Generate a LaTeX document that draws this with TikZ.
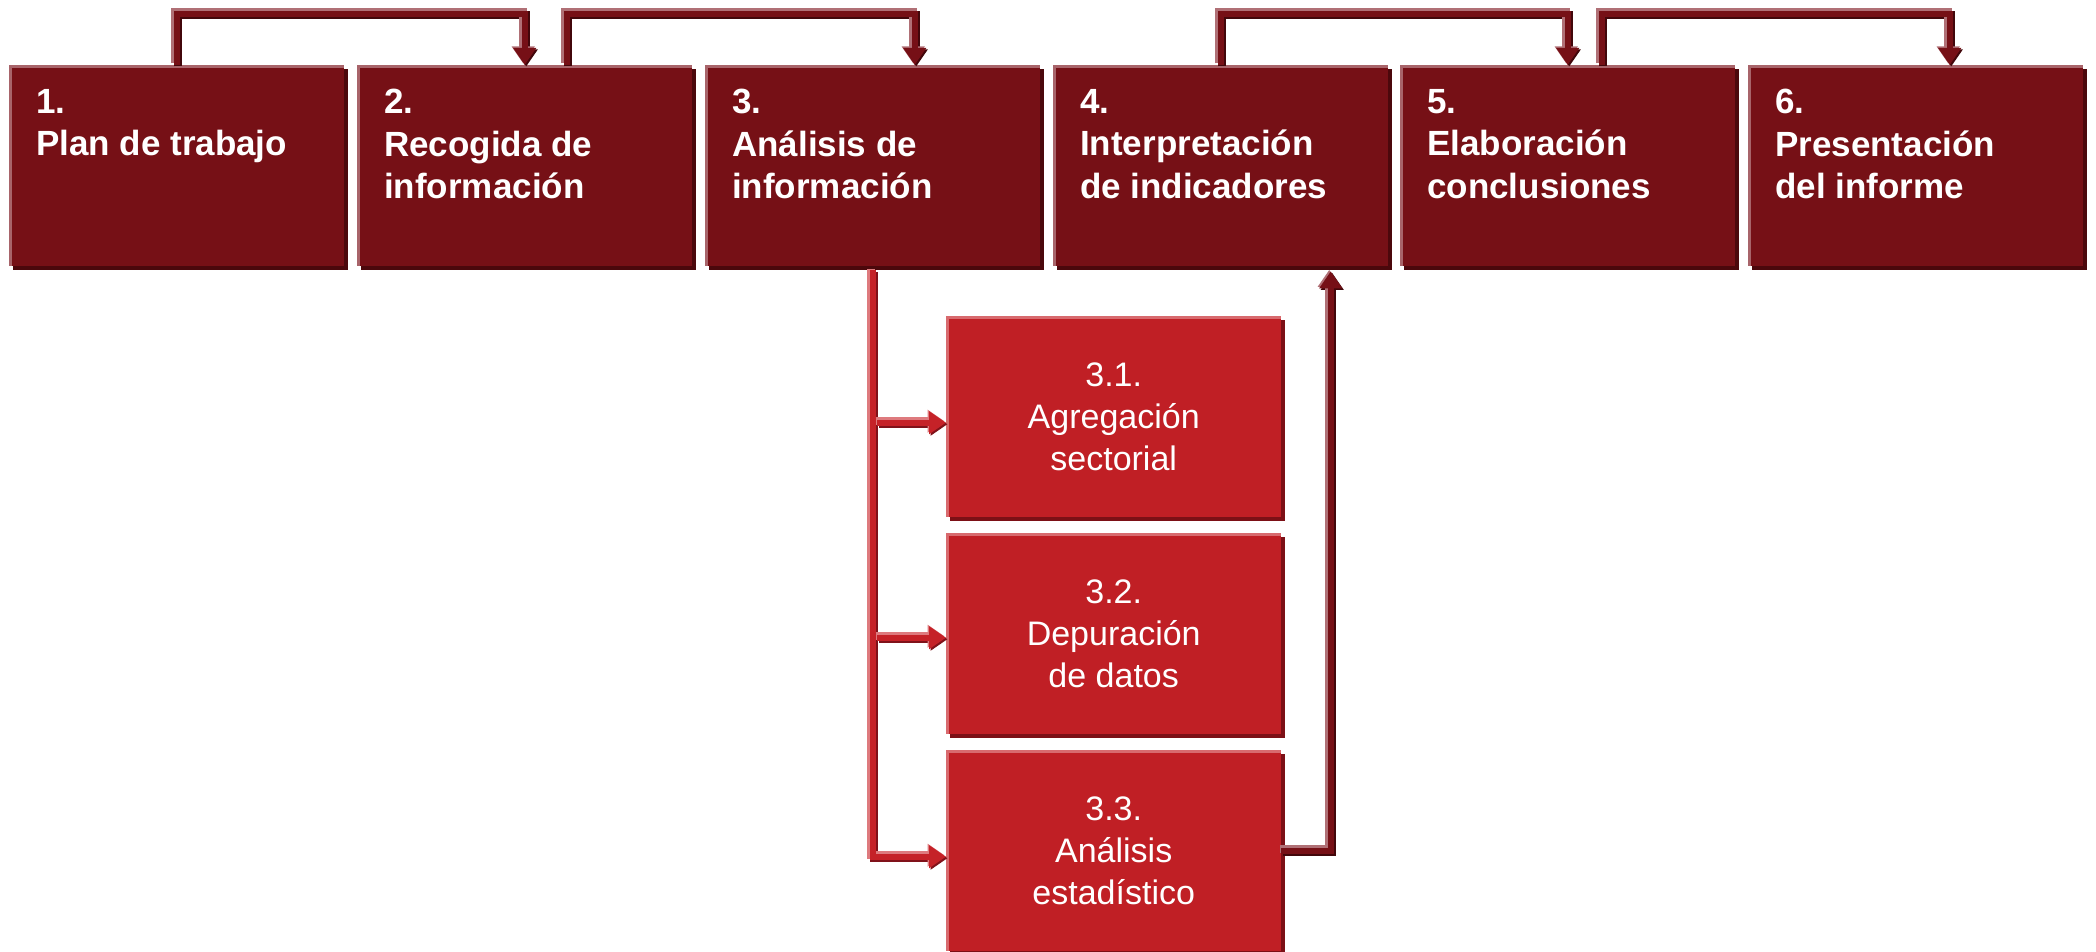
\documentclass[tikz,border=0pt]{standalone}
\usepackage{fontspec}
\setmainfont{Liberation Sans}
\usetikzlibrary{shadows,arrows.meta}
\definecolor{boxmain}{HTML}{761016}
\definecolor{boxlight}{HTML}{A8646A}
\definecolor{boxdark}{HTML}{4B080C}
\definecolor{submain}{HTML}{C01F25}
\definecolor{sublight}{HTML}{D86A6E}
\definecolor{subdark}{HTML}{7C1016}
\definecolor{conmain}{HTML}{761016}
\definecolor{conlight}{HTML}{B07076}
\definecolor{condark}{HTML}{42070B}
\definecolor{brmain}{HTML}{C52228}
\definecolor{brlight}{HTML}{DE7A7E}
\definecolor{brdark}{HTML}{80121A}
\tikzset{
  topbox/.style={rectangle, anchor=north west, minimum width=335pt, minimum height=201pt,
    inner sep=0pt, fill=boxmain,
    drop shadow={shadow xshift=4pt, shadow yshift=-4pt, fill=boxdark, opacity=1},
    path picture={\draw[boxlight, line width=6pt] (path picture bounding box.south west)
      |- (path picture bounding box.north east);}},
  toptext/.style={anchor=north west, inner sep=0pt, align=left, text=white,
    font=\fontsize{35}{42.5}\selectfont\bfseries},
  subbox/.style={rectangle, anchor=north west, minimum width=335pt, minimum height=201pt,
    inner sep=0pt, fill=submain, text=white, align=center,
    font=\fontsize{34}{42}\selectfont,
    execute at begin node={\rule{0pt}{33pt}},
    drop shadow={shadow xshift=4pt, shadow yshift=-4pt, fill=subdark, opacity=1},
    path picture={\draw[sublight, line width=6pt] (path picture bounding box.south west)
      |- (path picture bounding box.north east);}},
  tip/.style={-{Triangle[length=17pt,width=22pt]}},
  condk/.style={tip, draw=condark, line width=8pt, transform canvas={shift={(1.5pt,-1.5pt)}}},
  conlt/.style={tip, draw=conlight, line width=8pt, transform canvas={shift={(-1.5pt,1.5pt)}}},
  conmn/.style={tip, draw=conmain, line width=6pt},
  brdk/.style={tip, draw=brdark, line width=8pt, transform canvas={shift={(1.5pt,-1.5pt)}}},
  brlt/.style={tip, draw=brlight, line width=8pt, transform canvas={shift={(-1.5pt,1.5pt)}}},
  brmn/.style={tip, draw=brmain, line width=6pt},
}
\newcommand\tripledraw[2]{\draw[#1dk] #2; \draw[#1lt] #2; \draw[#1mn] #2;}
\begin{document}
\begin{tikzpicture}[x=1pt,y=1pt]
\useasboundingbox (0,0) rectangle (2096,-952);
\fill[white] (0,0) rectangle (2096,-952);
% top boxes
\node[topbox] (b1) at (9,-65) {};
\node[topbox] (b2) at (357,-65) {};
\node[topbox] (b3) at (705,-65) {};
\node[topbox] (b4) at (1053,-65) {};
\node[topbox] (b5) at (1400,-65) {};
\node[topbox] (b6) at (1748,-65) {};
\node[toptext] (t1) at ([shift={(27pt,-24pt)}]b1.north west) {1.\\Plan de trabajo};
\node[toptext] (t2) at ([shift={(27pt,-24pt)}]b2.north west) {2.\\Recogida de\\información};
\node[toptext] (t3) at ([shift={(27pt,-24pt)}]b3.north west) {3.\\Análisis de\\información};
\node[toptext] (t4) at ([shift={(27pt,-24pt)}]b4.north west) {4.\\Interpretación\\de indicadores};
\node[toptext] (t5) at ([shift={(27pt,-24pt)}]b5.north west) {5.\\Elaboración\\conclusiones};
\node[toptext] (t6) at ([shift={(27pt,-24pt)}]b6.north west) {6.\\Presentación\\del informe};
% sub boxes
\node[subbox] (s1) at (946,-316) {3.1.\\Agregación\\sectorial};
\node[subbox] (s2) at (946,-533) {3.2.\\Depuración\\de datos};
\node[subbox] (s3) at (946,-750) {3.3.\\Análisis\\estadístico};
% top connectors
\tripledraw{con}{(b1.north) -- ++(0,51) -| (b2.north)}
\tripledraw{con}{([xshift=42pt]b2.north) -- ++(0,51) -| ([xshift=42pt]b3.north)}
\tripledraw{con}{(b4.north) -- ++(0,51) -| (b5.north)}
\tripledraw{con}{([xshift=34pt]b5.north) -- ++(0,51) -| ([xshift=34pt]b6.north)}
% branch connectors
\tripledraw{br}{([yshift=-4pt]b3.south) |- ([yshift=-6pt]s3.west)}
\tripledraw{br}{([shift={(-69pt,-6pt)}]s1.west) -- ([yshift=-6pt]s1.west)}
\tripledraw{br}{([shift={(-69pt,-4pt)}]s2.west) -- ([yshift=-4pt]s2.west)}
% return connector
\tripledraw{con}{(s3.east) -| ([shift={(110pt,-5pt)}]b4.south)}
\end{tikzpicture}
\end{document}
